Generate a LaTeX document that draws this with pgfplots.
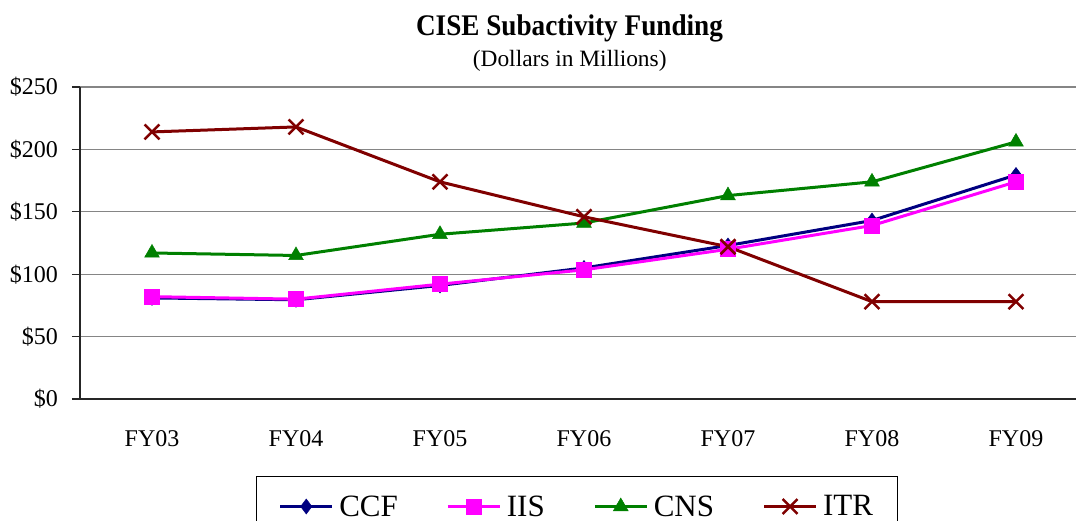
\documentclass[border=0pt]{standalone}
\usepackage{fontspec}
\setmainfont{Liberation Serif}
\usepackage{pgfplots}
\pgfplotsset{compat=1.18}
\definecolor{ccf}{HTML}{000080}
\definecolor{iis}{HTML}{FF00FF}
\definecolor{cns}{HTML}{008000}
\definecolor{itr}{HTML}{800000}
\definecolor{gridc}{HTML}{858585}
\begin{document}
\begin{tikzpicture}
\path[use as bounding box] (-80pt,-122pt) rectangle (996pt,399pt);
\begin{axis}[
  at={(0pt,0pt)}, anchor=south west,
  scale only axis, width=1008pt, height=312pt,
  xmin=-0.5, xmax=6.5, ymin=0, ymax=250,
  axis x line*=bottom, axis y line*=left,
  axis line style={line width=1.3pt, color=black!85},
  xtick={0,...,6},
  xticklabels={FY03,FY04,FY05,FY06,FY07,FY08,FY09},
  xtick style={draw=none},
  extra x ticks={-0.5,0.5,1.5,2.5,3.5,4.5,5.5,6.5},
  extra x tick labels={},
  extra x tick style={grid=none, tick style={draw=black!85, line width=1.2pt}},
  ytick={0,50,...,250},
  yticklabels={\$0,\$50,\$100,\$150,\$200,\$250},
  ytick style={draw=black!85, line width=1.2pt},
  tick align=outside, major tick length=8pt,
  ymajorgrids, grid style={gridc, line width=1.2pt},
  tick label style={font=\fontsize{24}{24}\selectfont},
  xticklabel style={anchor=base, inner sep=0pt, yshift=-39.5pt},
  yticklabel style={anchor=base east, inner sep=0pt, xshift=-14pt, yshift=-8pt},
  clip=false,
  legend columns=4,
  legend style={at={(0.1749,-0.2468)}, anchor=north west, draw=black, line width=1pt,
    font=\fontsize{31}{31}\selectfont, inner xsep=22pt, inner ysep=17pt,
    nodes={inner sep=2pt},
    /tikz/every odd column/.append style={column sep=3.5pt},
    /tikz/every even column/.append style={column sep=46.5pt}},
  legend image code/.code={\draw[#1, mark repeat=2, mark phase=2] plot coordinates {(0pt,0pt) (26pt,0pt) (52pt,0pt)};},
]
\addplot[ccf, line width=3pt, mark=diamond*, mark size=7.5pt, mark options={solid, fill=ccf, line width=0.5pt}] coordinates {
(0,81) (1,79.5) (2,91) (3,105) (4,123) (5,143) (6,179.5)};
\addlegendentry{CCF}
\addplot[iis, line width=3pt, mark=square*, mark size=7.5pt, mark options={solid, fill=iis, line width=0.5pt}] coordinates {
(0,82) (1,80) (2,92) (3,103.5) (4,120) (5,139) (6,174)};
\addlegendentry{IIS}
\addplot[cns, line width=3pt, mark=triangle*, mark size=8.5pt, mark options={solid, fill=cns, line width=0.5pt}] coordinates {
(0,117) (1,115) (2,132) (3,141) (4,163) (5,174) (6,206)};
\addlegendentry{CNS}
\addplot[itr, line width=3pt, mark=x, mark size=10.5pt, mark options={solid, line width=2.5pt}] coordinates {
(0,214) (1,218) (2,174) (3,146) (4,122) (5,78) (6,78)};
\addlegendentry{ITR}
\end{axis}
\node[anchor=base, font=\fontsize{27.2}{27.2}\selectfont\bfseries] at (489.5pt,363pt) {\scalebox{1}[1.1]{CISE Subactivity Funding}};
\node[anchor=base, font=\fontsize{23.4}{23.4}\selectfont] at (489.7pt,332.3pt) {(Dollars in Millions)};
\end{tikzpicture}
\end{document}
